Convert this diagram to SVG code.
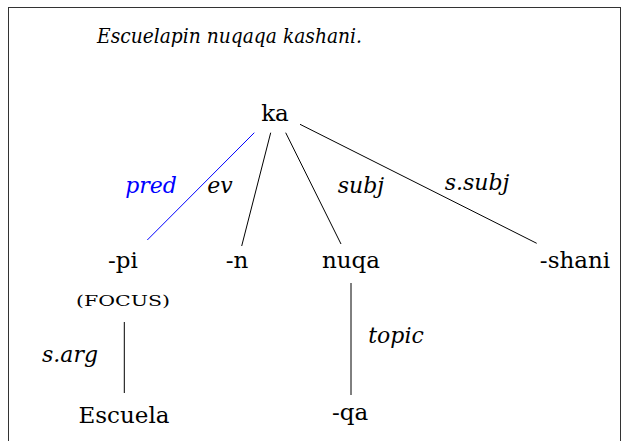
<svg xmlns="http://www.w3.org/2000/svg" width="622" height="441" viewBox="0 0 622 441">
<style>
text{fill:#000}
.n{font-size:23px;text-anchor:middle}
.l{font-size:22px;font-style:italic;text-anchor:middle}
.e{stroke:#000;stroke-width:1;fill:none}
</style>
<rect x="8.5" y="7.5" width="612" height="440" fill="#fff" stroke="#333" stroke-width="1"/>
<g font-family="'DejaVu Serif', 'Liberation Serif', serif">
<text x="97" y="43" style="font-size:21px;font-style:italic" textLength="265" lengthAdjust="spacingAndGlyphs">Escuelapin nuqaqa kashani.</text>
<g id="connectors">
<line x1="254.3" y1="132.7" x2="147.3" y2="240" style="stroke:#00f;stroke-width:1"/>
<line class="e" x1="270.7" y1="132.7" x2="241.7" y2="246"/>
<line class="e" x1="285.7" y1="132.7" x2="341" y2="244"/>
<line class="e" x1="300" y1="124.3" x2="536.7" y2="243.3"/>
<line class="e" x1="124.3" y1="322" x2="124.3" y2="393"/>
<line class="e" x1="351" y1="283" x2="351" y2="395"/>
<text class="l" x="151" y="193" style="fill:#00f">pred</text>
<text class="l" x="220" y="193">ev</text>
<text class="l" x="361" y="193">subj</text>
<text class="l" x="477" y="190">s.subj</text>
<text class="l" x="70" y="362">s.arg</text>
<text class="l" x="396" y="343">topic</text>
</g>
<g id="ka"><text class="n" x="275" y="121">ka</text></g>
<g id="pi"><text class="n" x="123" y="268">-pi</text>
<text x="123" y="306" style="font-size:15px;text-anchor:middle" textLength="94" lengthAdjust="spacingAndGlyphs">(FOCUS)</text></g>
<g id="n"><text class="n" x="237" y="268">-n</text></g>
<g id="nuqa"><text class="n" x="351" y="268">nuqa</text></g>
<g id="shani"><text class="n" x="575" y="268">-shani</text></g>
<g id="escuela"><text class="n" x="124" y="423">Escuela</text></g>
<g id="qa"><text class="n" x="350" y="420">-qa</text></g>
</g>
</svg>
